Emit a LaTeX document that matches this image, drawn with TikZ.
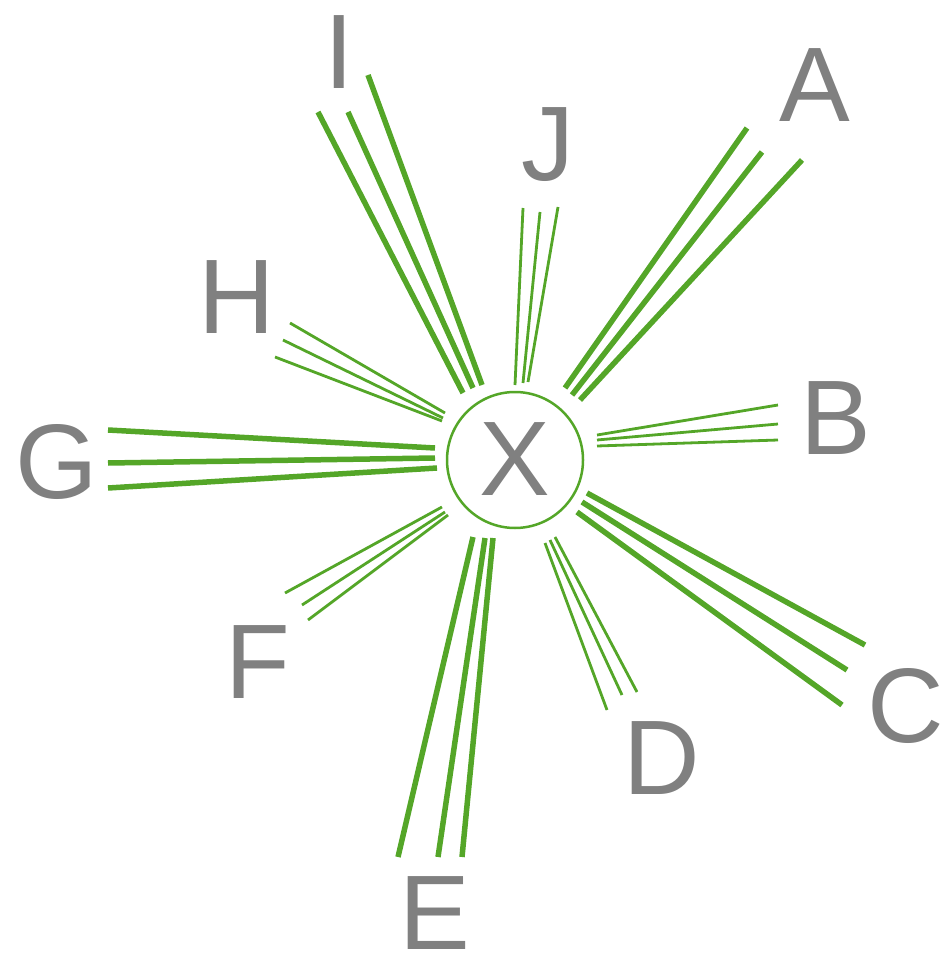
\documentclass[tikz,border=0pt]{standalone}
\usepackage{fontspec}
\setmainfont{Liberation Sans}
\definecolor{raygreen}{RGB}{84,166,40}
\definecolor{lblgray}{RGB}{128,128,128}
\begin{document}
\begin{tikzpicture}[x=1pt,y=-1pt,
  thickray/.style={draw=raygreen,line width=5.5pt},
  thinray/.style={draw=raygreen,line width=2.8pt},
  lab/.style={text=lblgray,font=\fontsize{106}{106}\selectfont,inner sep=0pt}]
\useasboundingbox (0,0) rectangle (946,965);
% centre
\node[lab] (X) at (515,459) {X};
\draw[draw=raygreen,line width=2.5pt] (515,460) circle (68);
% labels
\node[lab] (A) at (815,85) {A};
\node[lab] (B) at (836,418) {B};
\node[lab] (C) at (906,706) {C};
\node[lab] (D) at (662,758) {D};
\node[lab] (E) at (435,913) {E};
\node[lab] (F) at (258,662) {F};
\node[lab] (G) at (57,462) {G};
\node[lab] (H) at (237,297) {H};
\node[lab] (I) at (339,52) {I};
\node[lab] (J) at (548,145) {J};
% A rays
\draw[thickray] (565,388) -- (747,128);
\draw[thickray] (572,395) -- (762,152);
\draw[thickray] (580,400) -- (802,160);
% B rays
\draw[thinray] (597,435) -- (778,405);
\draw[thinray] (597,440) -- (778,424);
\draw[thinray] (597,446) -- (778,440);
% C rays
\draw[thickray] (587,493) -- (865,645);
\draw[thickray] (582,502) -- (847,670);
\draw[thickray] (577,512) -- (842,705);
% D rays
\draw[thinray] (545,543) -- (607,710);
\draw[thinray] (550,540) -- (622,695);
\draw[thinray] (555,537) -- (637,692);
% E rays
\draw[thickray] (473,537) -- (398,857);
\draw[thickray] (485,538) -- (438,857);
\draw[thickray] (493,538) -- (462,857);
% F rays
\draw[thinray] (442,507) -- (285,593);
\draw[thinray] (445,512) -- (302,605);
\draw[thinray] (448,515) -- (308,620);
% G rays
\draw[thickray] (435,448) -- (108,430);
\draw[thickray] (435,458) -- (108,463);
\draw[thickray] (437,468) -- (108,488);
% H rays
\draw[thinray] (445,413) -- (290,323);
\draw[thinray] (443,418) -- (283,340);
\draw[thinray] (442,421) -- (275,357);
% I rays
\draw[thickray] (463,393) -- (318,112);
\draw[thickray] (473,388) -- (348,112);
\draw[thickray] (482,385) -- (368,75);
% J rays
\draw[thinray] (515,385) -- (523,208);
\draw[thinray] (523,383) -- (540,212);
\draw[thinray] (528,382) -- (558,207);
\end{tikzpicture}
\end{document}
